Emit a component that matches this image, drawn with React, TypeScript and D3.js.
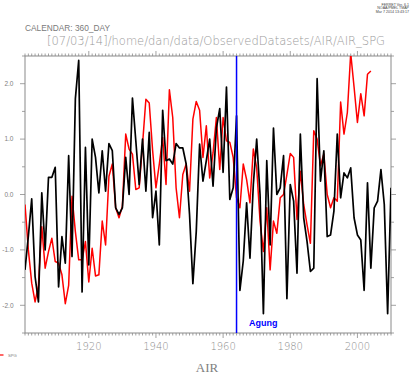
import React from "react";
import * as d3 from "d3";

const years: number[] = d3.range(1901, 2011);
const airValues: number[] = [
  -1.36, -0.75, -0.08, -1.48, -1.94, 0.03, -1.0, 0.31, 0.31, 0.49,
  -1.67, -0.76, -1.24, 0.7, -1.12, 1.73, 2.42, -1.76, 0.85, -1.27,
  1.0, 0.67, 0.03, 0.79, 0.06, 0.92, 0.79, -0.24, -0.36, -0.24,
  0.67, 0.0, 1.74, 0.97, 0.18, 1.0, 0.06, 1.12, -0.42, 0.06,
  -0.91, 1.52, 0.61, 0.64, 0.55, 0.92, 0.84, 0.84, 0.55, -0.36,
  -1.61, -0.67, 0.91, 0.24, 0.61, 1.0, 0.15, 1.2, 1.55, 0.4,
  1.94, -0.09, 0.12, 1.42, -1.73, -1.2, -0.15, -1.15, 0.18, 1.0,
  0.0, -2.15, 0.61, -0.91, 1.2, 0.0, 0.12, 0.7, -1.88, 0.18,
  -0.12, -1.42, 1.09, -0.42, -0.85, -1.39, -1.33, 2.09, 0.24, 0.79,
  -0.76, -0.73, -0.3, 1.09, -0.06, 0.39, 0.3, 0.48, -0.42, -0.73,
  -0.82, -1.73, 0.21, -1.33, -0.24, -0.12, 0.45, -0.18, -2.15, 0.12,
];
const spgValues: number[] = [
  -0.18, -1.0, -1.6, -1.94, -1.64, -0.58, -1.33, -1.03, -0.79, -1.21,
  -1.24, -1.45, -1.97, -1.64, -0.03, -0.67, -1.18, -1.18, -0.85, -1.58,
  -0.97, -1.47, -1.45, -0.48, -0.91, 0.33, 0.55, -0.24, -0.42, -0.21,
  1.09, 0.82, 0.73, 0.09, 0.12, 0.9, 1.72, 1.65, 0.8, 0.12,
  0.55, 1.03, 0.18, 1.89, 1.39, 0.12, -0.42, 0.36, 0.55, 0.06,
  1.36, 1.68, 1.52, 0.67, 1.24, 0.3, 0.75, 1.39, 0.45, 1.39,
  0.97, 0.94, 0.67, -0.06, -0.24, 0.55, 0.27, -0.15, 0.82, 0.48,
  -0.48, -1.03, -0.24, -1.36, -0.48, -0.7, -0.06, 0.0, 0.36, 0.74,
  0.67, -0.45, 0.42, -0.18, -0.55, -0.88, 1.15, 1.0, 0.52, 0.73,
  0.0, -0.24, -0.06, -0.12, 1.67, 1.09, 1.48, 2.55, 1.94, 1.3,
  1.82, 1.42, 2.17, 2.23,
];
const xTickLabels: number[] = [1920, 1940, 1960, 1980, 2000];
const yTickLabels: number[] = [2, 1, 0, -1, -2];
const eventYear = 1964;
const eventLabel = "Agung";
const titleText = "AIR";
const legendLabel = "SPG";
const calendarText = "CALENDAR: 360_DAY";
const pathText = "[07/03/14]/home/dan/data/ObservedDatasets/AIR/AIR_SPG";
const stampLines: string[] = ["FERRET Ver. 6.1", "NOAA/PMEL TMAP", "Mar  7 2014 13:43:17"];

export default function App() {
  const W = 414, H = 374;
  const left = 25, right = 391, top = 56, bottom = 333;
  const x = d3.scaleLinear().domain([1901, 2010]).range([left, right]);
  const y = d3.scaleLinear().domain([-2.5, 2.5]).range([bottom, top]);
  const line = d3.line<[number, number]>().x((d) => x(d[0])).y((d) => y(d[1]));
  const airPts: [number, number][] = airValues.map((v, i) => [years[i], v]);
  const spgPts: [number, number][] = spgValues.map((v, i) => [years[i], v]);
  const axisCol = "#8a8a8a";
  const textCol = "#808080";
  const font = "'Liberation Sans', Arial, sans-serif";
  const thinFont = "'DejaVu Sans', sans-serif";
  const yMinor = d3.range(-2.5, 2.51, 0.5);
  const xMinor = d3.range(1901, 2011, 1);

  return (
    <svg width={W} height={H} style={{ position: "absolute", left: 0, top: 0, background: "#fff" }}>
      <defs>
        <clipPath id="plotclip">
          <rect x={left} y={top} width={right - left} height={bottom - top} />
        </clipPath>
      </defs>
      {stampLines.map((s, i) => (
        <text key={s} x={409} y={5.5 + i * 3.8} fontSize={3.6} textAnchor="end" fill="#444" fontFamily={font}>
          {s}
        </text>
      ))}
      <text x={25} y={31} fontSize={8.5} fill="#7a7a7a" fontFamily={font} fontWeight={200} textLength={85} lengthAdjust="spacingAndGlyphs">
        {calendarText}
      </text>
      <text x={47} y={45} fontSize={11.5} fill="#9a9a9a" fontFamily={thinFont} fontWeight={200} textLength={338} lengthAdjust="spacingAndGlyphs">
        {pathText}
      </text>

      {/* frame */}
      <rect x={left} y={top} width={right - left} height={bottom - top} fill="none" stroke={axisCol} strokeWidth={1} />
      {xMinor.map((yr) => {
        const major = yr % 20 === 0;
        const len = major ? 5 : 2.5;
        return (
          <g key={"xt" + yr}>
            <line x1={x(yr)} x2={x(yr)} y1={bottom} y2={bottom + len} stroke={axisCol} strokeWidth={0.8} />
            <line x1={x(yr)} x2={x(yr)} y1={top} y2={top - len} stroke={axisCol} strokeWidth={0.8} />
          </g>
        );
      })}
      {yMinor.map((v) => {
        const major = Math.abs(v - Math.round(v)) < 1e-6;
        const len = major ? 5 : 3;
        return (
          <g key={"yt" + v}>
            <line x1={left - len} x2={left} y1={y(v)} y2={y(v)} stroke={axisCol} strokeWidth={0.8} />
            <line x1={right} x2={right + len} y1={y(v)} y2={y(v)} stroke={axisCol} strokeWidth={0.8} />
          </g>
        );
      })}
      {xTickLabels.map((t) => (
        <text key={"xl" + t} x={x(t)} y={350} fontSize={10} textAnchor="middle" fill="#8c8c8c" fontFamily={thinFont} fontWeight={200}>
          {t}
        </text>
      ))}
      {yTickLabels.map((t) => (
        <text key={"yl" + t} x={13.5} y={y(t) + 2.3} fontSize={6.5} textAnchor="end" fill={textCol} fontFamily={font}>
          {t.toFixed(1)}
        </text>
      ))}

      <g clipPath="url(#plotclip)">
        <path d={line(spgPts) || ""} fill="none" stroke="#ff0000" strokeWidth={1.5} strokeLinejoin="round" />
        <path d={line(airPts) || ""} fill="none" stroke="#000" strokeWidth={1.7} strokeLinejoin="round" />
      </g>

      <line x1={x(eventYear)} x2={x(eventYear)} y1={top} y2={bottom} stroke="#0000ff" strokeWidth={1.5} />
      <text x={249} y={326} fontSize={9} fontWeight="bold" fill="#0000ff" fontFamily={font}>
        {eventLabel}
      </text>

      <line x1={0} x2={3.5} y1={355} y2={355} stroke="#ff0000" strokeWidth={1.2} />
      <text x={8} y={356.5} fontSize={4.2} fill={textCol} fontFamily={font}>
        {legendLabel}
      </text>

      <text x={207} y={372} fontSize={13} textAnchor="middle" fill={textCol} fontFamily="'Liberation Serif', 'Times New Roman', serif">
        {titleText}
      </text>
    </svg>
  );
}
